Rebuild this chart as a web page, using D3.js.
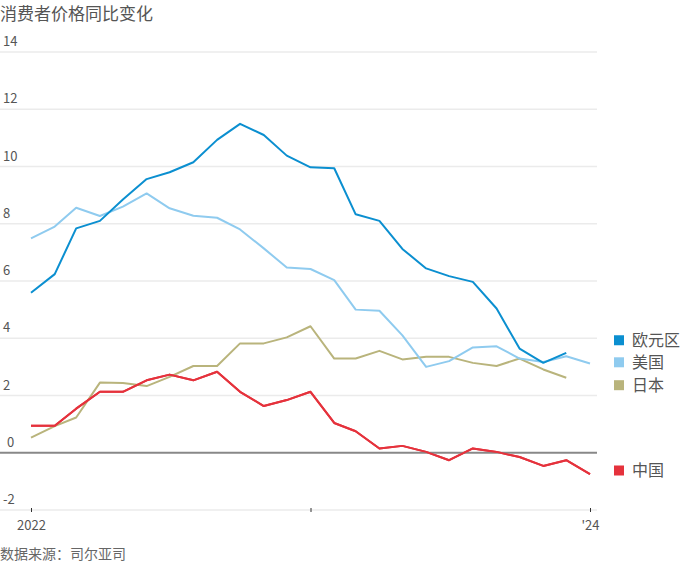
<!DOCTYPE html>
<html><head><meta charset="utf-8">
<script src="https://cdn.jsdelivr.net/npm/d3@7"></script>
<style>
body{margin:0;background:#fff;}
svg text{font-family:"Noto Sans CJK SC","Noto Sans",sans-serif;}
</style></head>
<body><svg id="c" width="699" height="564"></svg>
<script>
const months = d3.range(25).map(i => new Date(2022, i, 1));
const euro  = [5.59,6.24,7.84,8.1,8.85,9.56,9.8,10.15,10.93,11.49,11.1,10.38,9.97,9.94,8.33,8.1,7.12,6.44,6.17,5.97,5.04,3.64,3.14,3.49];
const us    = [7.49,7.9,8.56,8.27,8.6,9.06,8.54,8.28,8.21,7.8,7.14,6.47,6.42,6.03,5.0,4.96,4.1,3.0,3.2,3.68,3.72,3.29,3.17,3.37,3.12];
const japan = [0.53,0.93,1.23,2.45,2.44,2.33,2.65,3.03,3.03,3.82,3.82,4.03,4.42,3.29,3.29,3.56,3.26,3.35,3.35,3.14,3.03,3.29,2.91,2.62];
const china = [0.94,0.94,1.54,2.13,2.13,2.53,2.73,2.53,2.83,2.13,1.63,1.84,2.13,1.04,0.75,0.15,0.24,0.03,-0.26,0.15,0.03,-0.15,-0.46,-0.26,-0.75];
const seriesNames = ["欧元区","美国","日本","中国"];
const seriesColors = ["#0b8fd0","#8fcbef","#b9b47c","#e5323c"];
const legendValues = [3.93,3.16,2.36,-0.62];
const yTicks = [-2,0,2,4,6,8,10,12,14];
const xTicks = [new Date(2022,0,1), new Date(2023,0,1), new Date(2024,0,1)];
const xTickLabels = ["2022","","'24"];
const title = "消费者价格同比变化";
const source = "数据来源：司尔亚司";

const svg = d3.select("#c");
const x = d3.scaleTime().domain([new Date(2022,0,1), new Date(2024,0,1)]).range([31,590]);
const y = d3.scaleLinear().domain([-2,14]).range([510,52]);

svg.append("text").attr("x",0).attr("y",20).attr("font-size",17).attr("fill","#555").text(title);

// gridlines
const g = svg.append("g");
yTicks.forEach(t=>{
  if(t===0) return;
  g.append("line").attr("x1",0).attr("x2",597).attr("y1",y(t)).attr("y2",y(t))
   .attr("stroke","#ebebeb").attr("stroke-width",1.5);
  g.append("text").attr("x",3).attr("y",y(t)-6).attr("font-size",13).attr("fill","#555")
   .attr("font-family","Roboto, sans-serif").text(t);
});
g.append("text").attr("x",7).attr("y",y(0)-6).attr("font-size",13).attr("fill","#555")
 .attr("font-family","Roboto, sans-serif").text(0);

// x axis
const xa = svg.append("g").attr("transform",`translate(0,${y(-2)})`)
  .call(d3.axisBottom(x).tickValues(xTicks).tickSize(3).tickFormat((d,i)=>xTickLabels[i]));
xa.select(".domain").remove();
xa.selectAll(".tick line").attr("stroke","#333").attr("y1",-2).attr("y2",2);
xa.selectAll(".tick text").attr("font-size",13).attr("fill","#555").attr("dy","1.1em")
  .attr("font-family","Roboto, sans-serif");

const line = d3.line().x((d,i)=>x(months[i])).y(d=>y(d));
const data = [japan, china, us, euro];
const order = [2,3,1,0];
data.forEach((s,k)=>{
  svg.append("path").attr("d",line(s)).attr("fill","none")
    .attr("stroke",seriesColors[order[k]]).attr("stroke-width",2).attr("stroke-linejoin","round");
});

// zero line
svg.append("line").attr("x1",0).attr("x2",597).attr("y1",y(0)).attr("y2",y(0))
  .attr("stroke","#888").attr("stroke-width",2);
// redraw china over zero line
svg.append("path").attr("d",line(china)).attr("fill","none")
  .attr("stroke",seriesColors[3]).attr("stroke-width",2).attr("stroke-linejoin","round");

// legend
seriesNames.forEach((n,i)=>{
  const yy = y(legendValues[i]);
  svg.append("rect").attr("x",614).attr("y",yy-5).attr("width",10).attr("height",10).attr("fill",seriesColors[i]);
  svg.append("text").attr("x",632).attr("y",yy).attr("dy","0.36em").attr("font-size",16).attr("fill","#555").text(n);
});

svg.append("text").attr("x",0).attr("y",559).attr("font-size",14).attr("fill","#666").text(source);
</script></body></html>
